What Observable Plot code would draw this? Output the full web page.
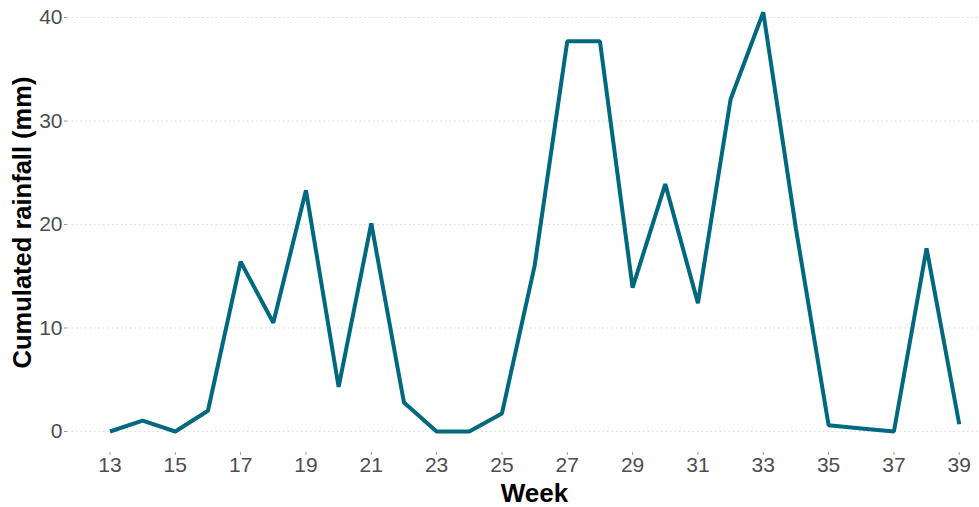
<!DOCTYPE html>
<html>
<head>
<meta charset="utf-8">
<script src="https://cdn.jsdelivr.net/npm/d3@7"></script>
<script src="https://cdn.jsdelivr.net/npm/@observablehq/plot@0.6"></script>
<style>
  html, body { margin: 0; padding: 0; background: #fff; }
  svg { display: block; }
</style>
</head>
<body>
<div id="chart"></div>
<script>
const weeks = [13,14,15,16,17,18,19,20,21,22,23,24,25,26,27,28,29,30,31,32,33,34,35,36,37,38,39];
const rainfall = [0,1.05,0,2.0,16.4,10.5,23.3,4.3,20.1,2.8,0,0,1.75,16.0,37.7,37.7,13.9,23.9,12.4,32.1,40.5,19.6,0.6,0.3,0,17.7,0.7];
const xTicks = [13,15,17,19,21,23,25,27,29,31,33,35,37,39];
const yTicks = [0,10,20,30,40];
const xTitle = "Week";
const yTitle = "Cumulated rainfall (mm)";

const data = weeks.map((w, i) => ({week: w, rain: rainfall[i]}));

const chart = Plot.plot({
  width: 979,
  height: 507,
  marginLeft: 67,
  marginRight: 0,
  marginTop: 0,
  marginBottom: 55,
  style: {fontFamily: "'Liberation Sans', Arial, sans-serif", background: "#fff", overflow: "visible"},
  x: {domain: [11.7, 39.62]},
  y: {domain: [-2.03, 41.64]},
  marks: [
    Plot.gridY(yTicks, {stroke: "#d9d9d9", strokeOpacity: 1, strokeWidth: 1, strokeDasharray: "1.5,3"}),
    Plot.axisX(xTicks, {tickSize: 3, tickPadding: 2, fontSize: 21, fill: "#4d4d4d", stroke: "#999", label: null, tickFormat: d => String(d)}),
    Plot.axisY(yTicks, {tickSize: 3, tickPadding: 2, fontSize: 21, fill: "#4d4d4d", stroke: "#999", label: null, tickFormat: d => String(d)}),
    Plot.line(data, {x: "week", y: "rain", stroke: "#00687f", strokeWidth: 4, strokeLinejoin: "miter", strokeLinecap: "butt"}),
    Plot.text([xTitle], {text: d => d, frameAnchor: "bottom", textAnchor: "middle", dx: 11, dy: 41, lineAnchor: "middle", fontSize: 26, fontWeight: "bold", fill: "#000"}),
    Plot.text([yTitle], {text: d => d, frameAnchor: "left", textAnchor: "middle", dx: -44.5, dy: -4, rotate: -90, lineAnchor: "middle", fontSize: 25.5, fontWeight: "bold", fill: "#000"})
  ]
});
document.getElementById("chart").appendChild(chart);
</script>
</body>
</html>
